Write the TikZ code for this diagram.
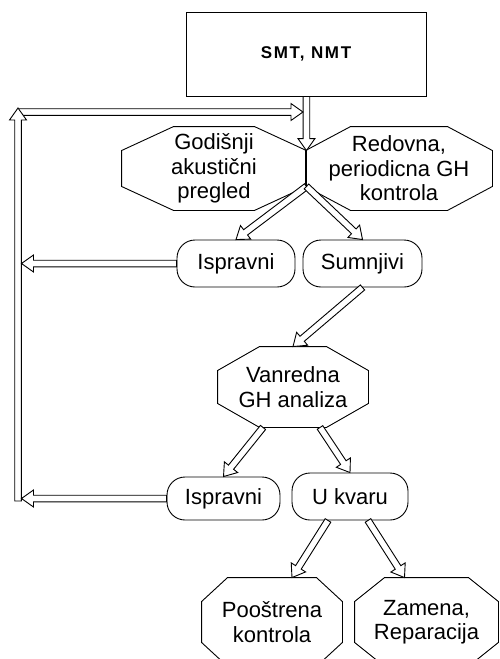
\documentclass[tikz,border=0pt]{standalone}
\usepackage{fontspec}
\setmainfont{Liberation Sans}
\usetikzlibrary{calc,shapes.misc}

\begin{document}
\begin{tikzpicture}[x=1pt,y=-1pt,line width=0.9pt,
    font=\fontsize{22}{24.5}\selectfont,
    oct/.style={align=center,inner sep=0pt},
    pill/.style={draw,fill=white,rounded corners=18pt,inner sep=0pt},
    hollow/.style={draw,fill=white,line join=miter,to path={
      ($(\tikztostart)!3.3pt!90:(\tikztotarget)$)
      -- ($(\tikztotarget)!12pt!(\tikztostart)!3.3pt!90:(\tikztotarget)$)
      -- ($(\tikztotarget)!12pt!(\tikztostart)!8.5pt!90:(\tikztotarget)$)
      -- (\tikztotarget)
      -- ($(\tikztotarget)!12pt!(\tikztostart)!8.5pt!-90:(\tikztotarget)$)
      -- ($(\tikztotarget)!12pt!(\tikztostart)!3.3pt!-90:(\tikztotarget)$)
      -- ($(\tikztostart)!3.3pt!-90:(\tikztotarget)$) -- cycle}}]
  \useasboundingbox (0,0) rectangle (500,659);
  \node[draw,minimum width=240pt,minimum height=84pt,
        font=\fontsize{17}{18}\selectfont\bfseries\addfontfeature{LetterSpace=10}] (smt) at (306,54) {SMT, NMT};
  \node[oct,minimum width=184pt,minimum height=83pt] (god) at (214,168.5) {Godišnji\\akustični\\pregled};
  \node[oct,minimum width=186pt,minimum height=83pt] (red) at (399,168.5) {Redovna,\\periodicna GH\\kontrola};
  \node[pill,minimum width=118pt,minimum height=47pt] (ispr1) at (236,263.5) {Ispravni};
  \node[pill,minimum width=119pt,minimum height=47pt] (sumn) at (362.5,263.5) {Sumnjivi};
  \node[oct,minimum width=150pt,minimum height=80pt] (van) at (293,387) {Vanredna\\GH analiza};
  \node[pill,minimum width=113pt,minimum height=43pt] (ispr2) at (223.5,498.5) {Ispravni};
  \node[pill,minimum width=116pt,minimum height=47pt] (ukv) at (350,496.5) {U kvaru};
  \node[oct,minimum width=140pt,minimum height=88pt] (poo) at (272,622) {Pooštrena\\kontrola};
  \node[oct,minimum width=143pt,minimum height=88pt] (zam) at (426.5,622) {Zamena,\\Reparacija};
  \foreach \n/\c in {god/52,red/45,van/42,poo/26,zam/30}
    \draw ($(\n.north west)+(\c,0)$) -- ($(\n.north east)+(-\c,0)$) -- ($(\n.north east)+(0,24)$)
      -- ($(\n.south east)+(0,-24)$) -- ($(\n.south east)+(-\c,0)$) -- ($(\n.south west)+(\c,0)$)
      -- ($(\n.south west)+(0,-24)$) -- ($(\n.north west)+(0,24)$) -- cycle;
  \coordinate (jtop) at ($(god.north east)+(0,24)$);
  \coordinate (jbot) at ($(god.south east)+(0,-24)$);
  \coordinate (lb) at (18,501);
  \coordinate (lt) at (18,108);
  \coordinate (lh) at (18,112);
  \coordinate (lhend) at ($(jtop |- lh)+(-3.5,0)$);
  \coordinate (i1end) at ($(ispr1.west -| lb)+(3.5,0)$);
  \coordinate (i2end) at ($(ispr2.west -| lb)+(3.5,0)$);
  \coordinate (vl) at ($(van.south)+(-30,0)$);
  \coordinate (vr) at ($(van.south)+(27,0)$);
  \coordinate (ul) at ($(ukv.south)+(-22,0)$);
  \coordinate (ur) at ($(ukv.south)+(18,0)$);
  \coordinate (pt) at ($(poo.north)+(20,0)$);
  \coordinate (zt) at ($(zam.north)+(-22,0)$);
  \draw[hollow] (smt.south -| jtop) to (jtop);
  \draw[hollow] (lh) to (lhend);
  \draw[hollow] (lb) to (lt);
  \draw[hollow] (jbot) to (ispr1.north);
  \draw[hollow] (jbot) to (sumn.north);
  \draw[hollow] (ispr1.west) to (i1end);
  \draw[hollow] (sumn.south) to (van.north);
  \draw[hollow] (vl) to (ispr2.north);
  \draw[hollow] (vr) to (ukv.north);
  \draw[hollow] (ispr2.west) to (i2end);
  \draw[hollow] (ul) to (pt);
  \draw[hollow] (ur) to (zt);
\end{tikzpicture}
\end{document}
